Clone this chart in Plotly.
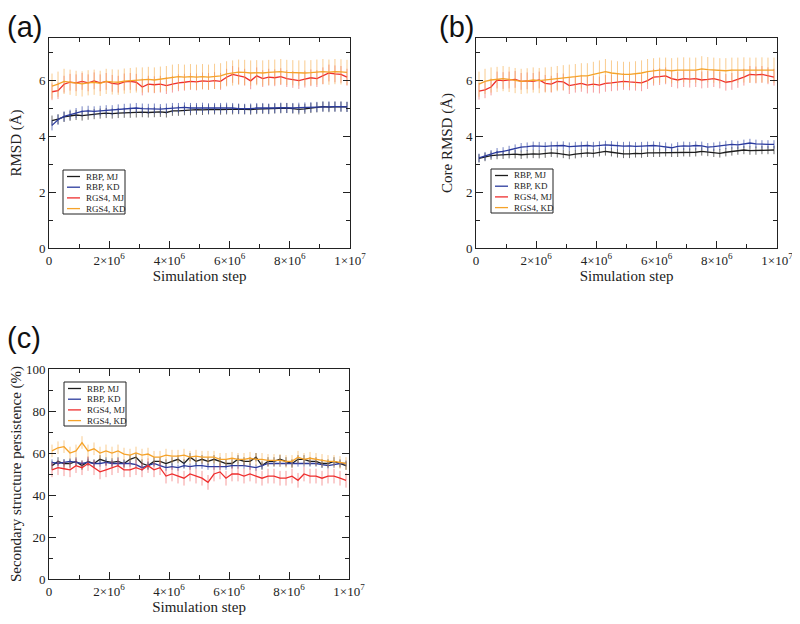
import plotly.graph_objects as go

# ---------------- data ----------------
# simulation steps (units of 1e5 steps)
steps_1e5 = [1, 3, 5, 7, 9, 11, 13, 15, 17, 19, 21, 23, 25, 27, 29, 31, 33, 35, 37, 39,
             41, 43, 45, 47, 49, 51, 53, 55, 57, 59, 61, 63, 65, 67, 69, 71, 73, 75, 77, 79,
             81, 83, 85, 87, 89, 91, 93, 95, 97, 99]
steps = [s * 1e5 for s in steps_1e5]

series_names = ["RBP, MJ", "RBP, KD", "RGS4, MJ", "RGS4, KD"]

# (a) RMSD (Å)
rmsd_rbp_mj = [4.55, 4.60, 4.68, 4.72, 4.75, 4.73, 4.76, 4.78, 4.80, 4.82, 4.80, 4.82, 4.83, 4.83, 4.84,
               4.85, 4.84, 4.85, 4.86, 4.84, 4.90, 4.90, 4.92, 4.92, 4.94, 4.93, 4.95, 4.95, 4.94, 4.95,
               4.95, 4.96, 4.95, 4.94, 4.96, 4.97, 4.96, 4.98, 4.99, 5.00, 4.98, 4.95, 4.97, 5.00, 5.02,
               5.05, 5.03, 5.05, 5.05, 5.04]
rmsd_rbp_kd = [4.38, 4.58, 4.70, 4.76, 4.82, 4.88, 4.90, 4.88, 4.90, 4.92, 4.92, 4.95, 4.97, 4.98, 5.00,
               4.98, 4.97, 4.98, 4.96, 4.98, 5.00, 5.00, 5.02, 5.00, 5.00, 5.01, 4.99, 5.00, 5.00, 5.01,
               5.00, 4.98, 4.97, 4.98, 5.00, 5.00, 4.98, 5.00, 5.01, 5.00, 5.00, 5.01, 5.02, 5.03, 5.04,
               5.05, 5.06, 5.05, 5.05, 5.04]
rmsd_rgs4_mj = [5.58, 5.62, 5.85, 5.92, 5.90, 5.95, 5.90, 5.97, 5.90, 5.95, 5.88, 5.85, 5.93, 5.95, 5.92,
                5.75, 5.85, 5.83, 5.85, 5.80, 5.85, 5.90, 5.92, 5.95, 5.93, 5.97, 5.95, 5.98, 5.95, 6.10,
                6.20, 6.15, 6.10, 5.97, 6.15, 6.05, 6.10, 6.08, 6.12, 6.05, 6.02, 5.98, 6.03, 6.08, 6.05,
                6.15, 6.25, 6.22, 6.20, 6.10]
rmsd_rgs4_kd = [5.78, 5.85, 5.95, 5.92, 5.88, 5.86, 5.90, 5.92, 5.88, 5.95, 5.93, 5.92, 5.96, 5.98, 6.00,
                6.00, 6.02, 6.00, 6.03, 6.05, 6.10, 6.12, 6.10, 6.12, 6.10, 6.12, 6.10, 6.13, 6.15, 6.22,
                6.25, 6.28, 6.27, 6.25, 6.26, 6.25, 6.27, 6.28, 6.30, 6.27, 6.26, 6.25, 6.25, 6.26, 6.28,
                6.30, 6.28, 6.30, 6.29, 6.27]
rmsd_err = [0.18, 0.18, 0.30, 0.45]

# (b) Core RMSD (Å)
core_rbp_mj = [3.20, 3.25, 3.30, 3.32, 3.33, 3.35, 3.35, 3.33, 3.35, 3.36, 3.35, 3.37, 3.40, 3.38, 3.36,
               3.32, 3.35, 3.38, 3.40, 3.38, 3.42, 3.45, 3.42, 3.38, 3.36, 3.36, 3.38, 3.37, 3.40, 3.40,
               3.40, 3.42, 3.40, 3.40, 3.42, 3.41, 3.42, 3.45, 3.43, 3.40, 3.38, 3.42, 3.45, 3.48, 3.50,
               3.48, 3.48, 3.50, 3.50, 3.50]
core_rbp_kd = [3.22, 3.28, 3.35, 3.42, 3.45, 3.50, 3.55, 3.60, 3.62, 3.65, 3.64, 3.63, 3.65, 3.65, 3.66,
               3.62, 3.64, 3.65, 3.66, 3.64, 3.66, 3.68, 3.67, 3.65, 3.64, 3.65, 3.63, 3.64, 3.65, 3.66,
               3.64, 3.62, 3.58, 3.63, 3.65, 3.64, 3.66, 3.65, 3.60, 3.62, 3.65, 3.68, 3.70, 3.68, 3.72,
               3.75, 3.72, 3.70, 3.70, 3.70]
core_rgs4_mj = [5.60, 5.65, 5.75, 6.00, 5.98, 6.00, 6.02, 5.95, 5.97, 5.95, 6.00, 5.88, 5.85, 5.95, 5.93,
                5.80, 5.85, 5.88, 5.82, 5.85, 5.82, 5.88, 5.90, 5.92, 5.95, 5.93, 5.92, 5.90, 5.98, 6.10,
                6.12, 6.15, 6.05, 6.00, 6.05, 6.03, 6.05, 6.00, 6.02, 6.05, 6.00, 5.92, 5.95, 6.02, 6.10,
                6.20, 6.18, 6.20, 6.15, 6.10]
core_rgs4_kd = [5.85, 5.95, 6.00, 6.02, 6.05, 6.02, 5.98, 5.95, 5.97, 6.00, 5.98, 6.00, 6.02, 6.05, 6.08,
                6.10, 6.12, 6.15, 6.15, 6.20, 6.25, 6.30, 6.25, 6.22, 6.20, 6.20, 6.22, 6.25, 6.30, 6.33,
                6.35, 6.35, 6.33, 6.35, 6.36, 6.35, 6.35, 6.40, 6.37, 6.35, 6.33, 6.33, 6.35, 6.35, 6.36,
                6.35, 6.35, 6.36, 6.35, 6.35]
core_err = [0.15, 0.15, 0.30, 0.45]

# (c) Secondary structure persistence (%)
ss_rbp_mj = [54, 56, 55, 55, 56, 54, 56, 55, 57, 56, 55.5, 56, 55, 57, 58, 55, 54, 56, 56, 55,
             56, 57, 55, 58, 56, 57, 56, 57, 56, 55, 55, 57, 56, 56, 58, 54, 56, 56, 57, 56,
             55, 57, 57, 56, 56, 55, 55, 56, 55, 54]
ss_rbp_kd = [55.5, 55, 55.5, 56, 55.5, 55, 55.5, 55, 55, 55.5, 55, 55, 55, 55, 54.5, 53, 54, 55, 54, 53,
             53.5, 53, 54, 53.5, 54, 54, 53.5, 53.5, 53.5, 53.5, 54, 54, 54, 53.5, 53, 54, 55, 55, 55, 55,
             55, 55, 55, 55, 55, 54.5, 54, 54.5, 55, 55]
ss_rgs4_mj = [52, 53, 52.5, 52, 54, 53, 55, 53, 51, 52, 53, 54, 52, 52, 53, 52, 54, 52, 53, 49,
              50, 49, 48, 50, 49, 48, 46, 50, 51, 48, 50, 50, 49, 50, 49, 48, 49, 49, 48, 48,
              49, 47, 50, 49, 49, 48, 49, 49, 48, 47]
ss_rgs4_kd = [61, 62.5, 63, 60, 61, 65, 61, 62, 60, 61, 60, 61, 59.5, 59, 60, 59, 59.5, 58, 58, 59,
              58.5, 58.5, 59, 58, 58.5, 58, 58, 58, 57, 57, 57.5, 57, 57, 57.5, 57, 57, 56.5, 56.5, 56.5, 56,
              56, 58, 57, 57.5, 57, 56.5, 56, 56, 55.5, 55]
ss_err = [2.0, 1.5, 3.5, 3.0]

x_tickvals = [0, 2e6, 4e6, 6e6, 8e6, 1e7]
x_ticktext = ["0", "2×10<sup>6</sup>", "4×10<sup>6</sup>", "6×10<sup>6</sup>", "8×10<sup>6</sup>", "1×10<sup>7</sup>"]

# ---------------- styling ----------------
# the page body has an 8px margin, so the figure is 792x616 and offset by 8px
OFF = 8
W, H = 800 - OFF, 624 - OFF
line_colors = ["#1c1c1c", "#2b3b9e", "#ee2e2e", "#f5a32a"]
err_colors = ["rgba(60,60,60,0.75)", "rgba(60,80,170,0.7)", "rgba(240,90,90,0.6)", "rgba(245,170,70,0.6)"]
SERIF = "Liberation Serif, Times New Roman, serif"
SANS = "Liberation Sans, Arial, sans-serif"


def px(x):
    return (x - OFF) / W


def py(y):
    return 1 - (y - OFF) / H


fig = go.Figure()

panels = [
    ("x", "y", [rmsd_rbp_mj, rmsd_rbp_kd, rmsd_rgs4_mj, rmsd_rgs4_kd], rmsd_err),
    ("x2", "y2", [core_rbp_mj, core_rbp_kd, core_rgs4_mj, core_rgs4_kd], core_err),
    ("x3", "y3", [ss_rbp_mj, ss_rbp_kd, ss_rgs4_mj, ss_rgs4_kd], ss_err),
]

for xa, ya, ys, errs in panels:
    for i, (vals, e) in enumerate(zip(ys, errs)):
        fig.add_trace(go.Scatter(
            x=steps, y=vals, xaxis=xa, yaxis=ya, mode="lines",
            name=series_names[i], showlegend=False,
            line=dict(color=line_colors[i], width=1.3),
            error_y=dict(type="constant", value=e, color=err_colors[i], thickness=1, width=0),
        ))

# axes
common_x = dict(range=[0, 1e7], tickvals=x_tickvals, ticktext=x_ticktext, automargin=False,
                ticks="inside", ticklen=7, tickcolor="#222", showline=True, linecolor="#222",
                linewidth=1, mirror="ticks", showgrid=False, zeroline=False,
                minor=dict(ticks="inside", ticklen=4, dtick=1e6, tick0=0, tickcolor="#222", showgrid=False),
                tickfont=dict(family=SERIF, size=13, color="#222"),
                title=dict(text="Simulation step", font=dict(family=SERIF, size=15, color="#222"), standoff=2))

common_y = dict(ticks="inside", ticklen=7, tickcolor="#222", showline=True, linecolor="#222",
                linewidth=1, mirror="ticks", showgrid=False, zeroline=False, automargin=False,
                tickfont=dict(family=SERIF, size=13, color="#222"))

fig.update_layout(
    width=W, height=H, margin=dict(l=0, r=0, t=0, b=0, autoexpand=False),
    paper_bgcolor="white", plot_bgcolor="white", showlegend=False,
    xaxis=dict(common_x, domain=[px(49), px(350)], anchor="y"),
    yaxis=dict(common_y, domain=[py(248), py(38)], anchor="x", range=[0, 7.5], dtick=2, tick0=0,
               minor=dict(ticks="inside", ticklen=4, dtick=1, tick0=0, tickcolor="#222", showgrid=False),
               title=dict(text="RMSD (Å)", font=dict(family=SERIF, size=15, color="#222"), standoff=13)),
    xaxis2=dict(common_x, domain=[px(476), px(777)], anchor="y2"),
    yaxis2=dict(common_y, domain=[py(248), py(38)], anchor="x2", range=[0, 7.5], dtick=2, tick0=0,
                minor=dict(ticks="inside", ticklen=4, dtick=1, tick0=0, tickcolor="#222", showgrid=False),
                title=dict(text="Core RMSD (Å)", font=dict(family=SERIF, size=15, color="#222"), standoff=9)),
    xaxis3=dict(common_x, domain=[px(49), px(349)], anchor="y3"),
    yaxis3=dict(common_y, domain=[py(579), py(369)], anchor="x3", range=[0, 100], dtick=20, tick0=0,
                minor=dict(ticks="inside", ticklen=4, dtick=10, tick0=0, tickcolor="#222", showgrid=False),
                title=dict(text="Secondary structure persistence (%)", font=dict(family=SERIF, size=15, color="#222"), standoff=0)),
)

# panel letters
for text, x, y in [("(a)", 5, 27), ("(b)", 437, 27), ("(c)", 5, 338)]:
    fig.add_annotation(text=text, x=px(x), y=py(y), xref="paper", yref="paper",
                       xanchor="left", yanchor="middle", showarrow=False,
                       font=dict(family=SANS, size=29, color="#111"))

# hand-drawn legends (box, sample lines, labels)
def add_legend(x0, y0):
    x1, y1 = x0 + 62, y0 + 44
    fig.add_shape(type="rect", xref="paper", yref="paper", x0=px(x0), x1=px(x1), y0=py(y1), y1=py(y0),
                  line=dict(color="#222", width=1), fillcolor="white", layer="above")
    for i, name in enumerate(series_names):
        yy = y0 + 6.5 + i * 10.7
        fig.add_shape(type="line", xref="paper", yref="paper", x0=px(x0 + 4), x1=px(x0 + 17),
                      y0=py(yy), y1=py(yy), line=dict(color=line_colors[i], width=1.3), layer="above")
        fig.add_annotation(text=name, x=px(x0 + 21), y=py(yy), xref="paper", yref="paper",
                           xanchor="left", yanchor="middle", showarrow=False,
                           font=dict(family=SERIF, size=9, color="#222"))


add_legend(63, 170)
add_legend(491, 169)
add_legend(64, 382)

fig.write_html("out.html")
